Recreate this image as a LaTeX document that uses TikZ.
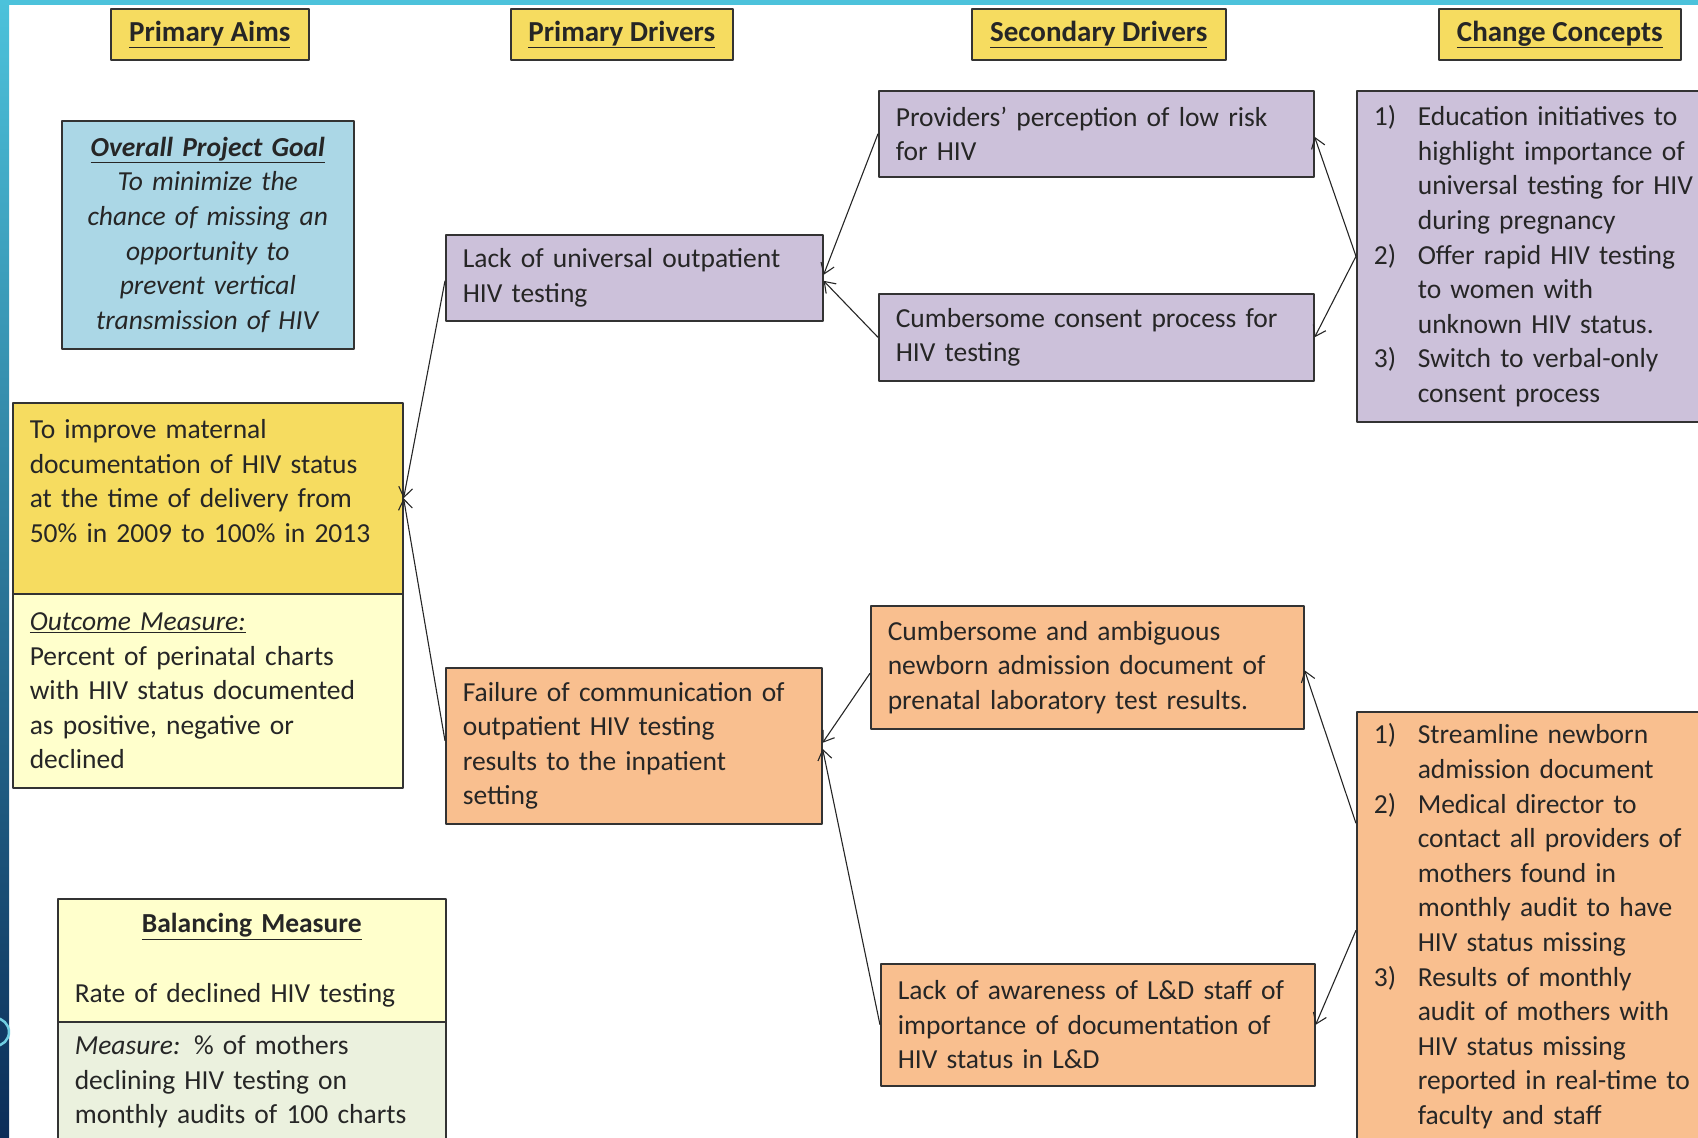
\documentclass[tikz,border=0pt]{standalone}
\usepackage{fontspec}
\setmainfont{Carlito}
\usetikzlibrary{arrows.meta}

\definecolor{hdryellow}{HTML}{F6DC60}
\definecolor{goalblue}{HTML}{ABD7E6}
\definecolor{lilac}{HTML}{CCC1DA}
\definecolor{peach}{HTML}{F9BF8F}
\definecolor{paleyellow}{HTML}{FFFFCC}
\definecolor{paleolive}{HTML}{EBF1DE}
\definecolor{stripcyan}{HTML}{4CC2DB}
\definecolor{stripnavy}{HTML}{0B2D58}

\tikzset{
    txt/.style={
        font=\fontsize{27.5}{34.6}\selectfont, text=black!85
    },
    box/.style={
        txt, draw=black!80, line width=1.6pt, inner sep=0pt,
        inner xsep=17pt, anchor=north west, align=left
    },
    hdr/.style={
        box, fill=hdryellow, align=center, minimum height=51pt,
        font=\fontsize{29}{34.6}\selectfont
    },
    link/.style={
        -{Straight Barb[length=10pt,width=14pt]}, line width=1.1pt, black!85
    }
}

\begin{document}
\begin{tikzpicture}[x=1pt,y=-1pt,line join=round]

\useasboundingbox (0,0) rectangle (1698,1138);

% --- slide background ---
    \shade[top color=stripcyan, bottom color=stripnavy] (0,0) rectangle (9,1138);
    \fill[stripcyan] (0,0) rectangle (1698,5);
    \draw[stripcyan!80!white, line width=2.5pt] (-5,1032) circle (14pt);

% column headers
    \node[hdr, minimum width=198pt] (hAims) at (110,8) {\underline{\textbf{Primary Aims}}};
    \node[hdr, minimum width=222pt] (hPrim) at (510,8) {\underline{\textbf{Primary Drivers}}};
    \node[hdr, minimum width=254pt] (hSec)  at (971,8) {\underline{\textbf{Secondary Drivers}}};
    \node[hdr, minimum width=242pt] (hChg)  at (1438,8) {\underline{\textbf{Change Concepts}}};

% primary aims column
    \node[box, fill=goalblue, align=center, inner xsep=10pt, text width=272pt,
          minimum height=228pt] (goal) at (61,120)
        {\underline{\textbf{\textit{Overall Project Goal}}}\\
         \textit{To minimize the}\\ \textit{chance of missing an}\\
         \textit{opportunity to}\\ \textit{prevent vertical}\\
         \textit{transmission of HIV}};
    \node[box, fill=hdryellow, text width=356pt, minimum height=191pt] (aim) at (12,402)
        {To improve maternal\\ documentation of HIV status\\
         at the time of delivery from\\ 50\% in 2009 to 100\% in 2013\\ \mbox{}};
    \node[box, fill=paleyellow, text width=356pt, minimum height=194pt] (outcome) at (12,593)
        {\underline{\textit{Outcome Measure:}}\\ Percent of perinatal charts\\
         with HIV status documented\\ as positive, negative or\\ declined};
    \node[box, fill=paleyellow, text width=354pt, minimum height=123pt] (balance) at (57,898)
        {\makebox[354pt][c]{\underline{\textbf{Balancing Measure}}}\\[34.6pt]
         Rate of declined HIV testing};
    \node[box, fill=paleolive, text width=354pt, minimum height=120pt] (measure) at (57,1021)
        {\textit{Measure:} \% of mothers\\ declining HIV testing on\\
         monthly audits of 100 charts};

% primary drivers
    \node[box, fill=lilac, text width=343pt, minimum height=86pt] (lack) at (445,234)
        {Lack of universal outpatient\\ HIV testing};
    \node[box, fill=peach, text width=342pt, minimum height=156pt] (fail) at (445,667)
        {Failure of communication of\\ outpatient HIV testing\\
         results to the inpatient\\ setting};

% secondary drivers
    \node[box, fill=lilac, text width=401pt, minimum height=86pt] (prov) at (878,90)
        {Providers’ perception of low risk\\ for HIV};
    \node[box, fill=lilac, text width=401pt, minimum height=87pt] (consent) at (878,293)
        {Cumbersome consent process for\\ HIV testing};
    \node[box, fill=peach, text width=399pt, minimum height=123pt] (ambig) at (870,605)
        {Cumbersome and ambiguous\\ newborn admission document of\\
         prenatal laboratory test results.};
    \node[box, fill=peach, text width=400pt, minimum height=122pt] (aware) at (880,963)
        {Lack of awareness of L\&D staff of\\ importance of documentation of\\
         HIV status in L\&D};

% change concepts
    \node[box, fill=lilac, text width=366pt, minimum height=331pt] (ccTest) at (1356,90)
        {\makebox[44pt][l]{1)}Education initiatives to\\
         \hspace*{44pt}highlight importance of\\
         \hspace*{44pt}universal testing for HIV\\
         \hspace*{44pt}during pregnancy\\
         \makebox[44pt][l]{2)}Offer rapid HIV testing\\
         \hspace*{44pt}to women with\\
         \hspace*{44pt}unknown HIV status.\\
         \makebox[44pt][l]{3)}Switch to verbal-only\\
         \hspace*{44pt}consent process};
    \node[box, fill=peach, text width=366pt, minimum height=429pt] (ccDoc) at (1356,711)
        {\makebox[44pt][l]{1)}Streamline newborn\\
         \hspace*{44pt}admission document\\
         \makebox[44pt][l]{2)}Medical director to\\
         \hspace*{44pt}contact all providers of\\
         \hspace*{44pt}mothers found in\\
         \hspace*{44pt}monthly audit to have\\
         \hspace*{44pt}HIV status missing\\
         \makebox[44pt][l]{3)}Results of monthly\\
         \hspace*{44pt}audit of mothers with\\
         \hspace*{44pt}HIV status missing\\
         \hspace*{44pt}reported in real-time to\\
         \hspace*{44pt}faculty and staff};

% connectors
    \draw[link] ([yshift=-3pt]lack.west) -- (aim.east);
    \draw[link] ([yshift=5pt]fail.west) -- (aim.east);
    \draw[link] (prov.west) -- ([yshift=3pt]lack.east);
    \draw[link] (consent.west) -- ([yshift=-3pt]lack.east);
    \draw[link] (ccTest.west) -- ([yshift=-3pt]prov.east);
    \draw[link] (ccTest.west) -- (consent.east);
    \draw[link] ([yshift=-6pt]ambig.west) -- ([yshift=3pt]fail.east);
    \draw[link] (aware.west) -- ([yshift=-3pt]fail.east);
    \draw[link] ([yshift=103pt]ccDoc.west) -- ([yshift=-3pt]ambig.east);
    \draw[link] ([yshift=-4pt]ccDoc.west) -- (aware.east);

\end{tikzpicture}
\end{document}
